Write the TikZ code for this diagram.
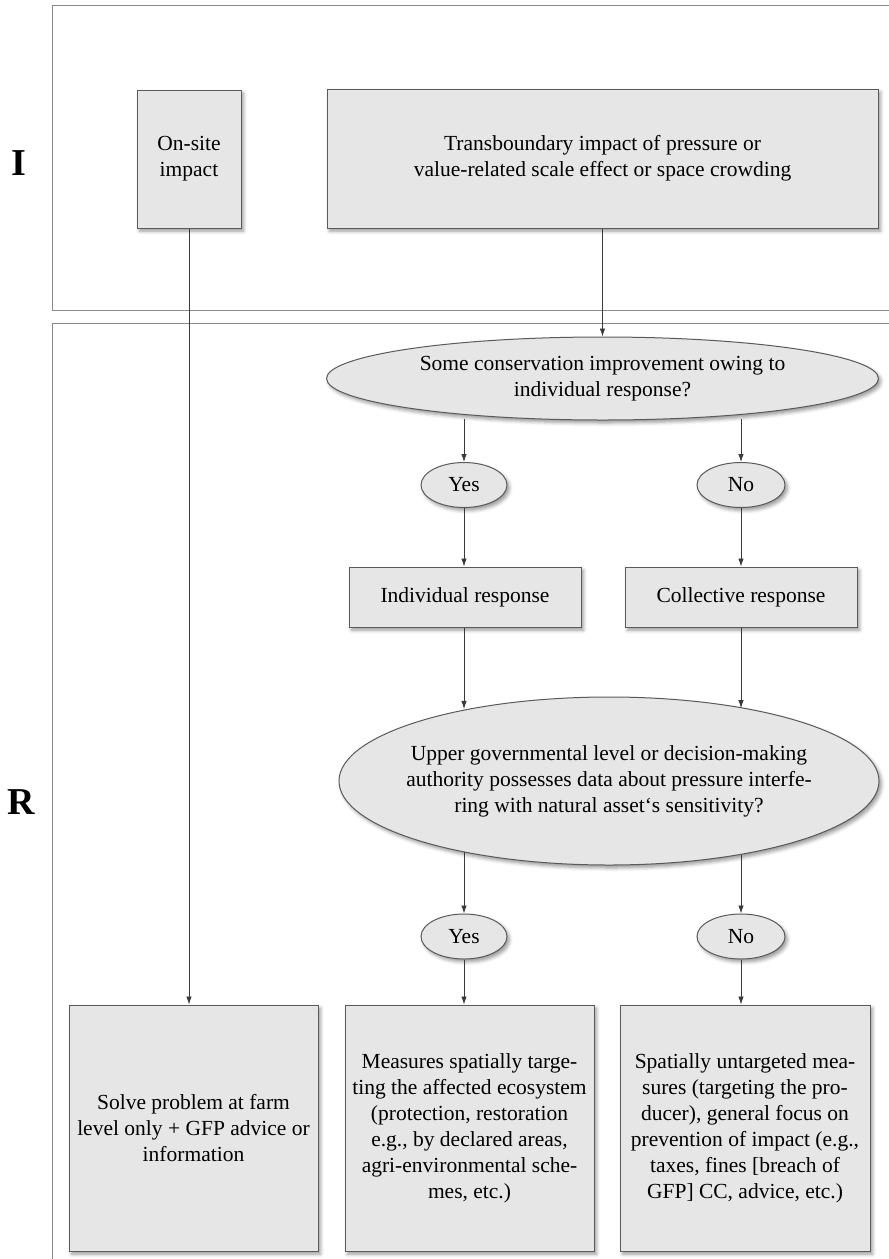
\documentclass[tikz,border=0pt]{standalone}
\usepackage{fontspec}
\setmainfont{Liberation Serif}
\usetikzlibrary{shapes.geometric,arrows.meta,shadows.blur}
\definecolor{boxfill}{HTML}{E6E6E6}
\definecolor{boxline}{HTML}{5A5A5A}
\definecolor{frameline}{HTML}{8A8A8A}
\definecolor{arrowline}{HTML}{3A3A3A}
\begin{document}
\begin{tikzpicture}[x=1pt,y=-1pt,
  box/.style={draw=boxline, fill=boxfill, line width=1pt,
    blur shadow={shadow xshift=2.5pt, shadow yshift=-3pt, shadow opacity=40, shadow blur radius=3.5pt},
    align=center, inner sep=0pt, font=\fontsize{21.5}{26}\selectfont},
  oval/.style={box, ellipse, inner xsep=-30pt},
  conn/.style={draw=arrowline, line width=0.8pt, -{Latex[length=8pt,width=5.5pt]}},
  frame/.style={draw=frameline, line width=1pt},
  lab/.style={font=\fontsize{38}{40}\selectfont\bfseries, inner sep=0pt}]

\useasboundingbox (0,0) rectangle (889,1259);
\begin{scope}
  \clip (0,0) rectangle (889,1259);
  \draw[frame] (52,5) rectangle (900,310);
  \draw[frame] (52,323) rectangle (900,1275);
\end{scope}

\node[lab] (labI) at (18.5,163) {I};
\node[lab] (labR) at (21,802) {R};

\node[box, minimum width=104pt, minimum height=138pt] (onsite) at (189,159) {On-site\\impact};
\node[box, minimum width=551pt, minimum height=139pt] (trans) at (602.5,158.5) {Transboundary impact of pressure or\\value-related scale effect or space crowding};

\node[oval, minimum width=552pt, minimum height=83pt] (q1) at (602.5,378.5) {Some conservation improvement owing to\\individual response?};

\node[oval, minimum width=86pt, minimum height=45pt, inner xsep=0pt] (yes1) at (464,485) {Yes};
\node[oval, minimum width=88pt, minimum height=45pt, inner xsep=0pt] (no1) at (741,485) {No};

\node[box, minimum width=232pt, minimum height=60pt] (ind) at (465,597) {Individual response};
\node[box, minimum width=232pt, minimum height=60pt] (coll) at (741,597) {Collective response};

\node[oval, minimum width=540pt, minimum height=168pt] (q2) at (609,781) {Upper governmental level or decision-making\\authority possesses data about pressure interfe-\\ring with natural asset‘s sensitivity?};

\node[oval, minimum width=86pt, minimum height=45pt, inner xsep=0pt] (yes2) at (464,936.5) {Yes};
\node[oval, minimum width=88pt, minimum height=45pt, inner xsep=0pt] (no2) at (741,936.5) {No};

\node[box, minimum width=249pt, minimum height=246pt] (farm) at (193.5,1128) {Solve problem at farm\\level only + GFP advice or\\information};
\node[box, minimum width=249pt, minimum height=246pt] (spat) at (469.5,1128) {Measures spatially targe-\\ting the affected ecosystem\\(protection, restoration\\e.g., by declared areas,\\agri-environmental sche-\\mes, etc.)};
\node[box, minimum width=250pt, minimum height=246pt] (unt) at (745,1128) {Spatially untargeted mea-\\sures (targeting the pro-\\ducer), general focus on\\prevention of impact (e.g.,\\taxes, fines [breach of\\GFP] CC, advice, etc.)};

\draw[conn] (trans.south) -- (trans.south |- q1.north);
\draw[conn] (yes1 |- q1.208) -- (yes1.north);
\draw[conn] (no1 |- q1.332) -- (no1.north);
\draw[conn] (yes1.south) -- (yes1.south |- ind.north);
\draw[conn] (no1.south) -- (no1.south |- coll.north);
\draw[conn] (yes1 |- ind.south) -- (yes1 |- q2.153.9);
\draw[conn] (no1 |- coll.south) -- (no1 |- q2.28.9);
\draw[conn] (yes2 |- q2.206.1) -- (yes2.north);
\draw[conn] (no2 |- q2.330.7) -- (no2.north);
\draw[conn] (yes2.south) -- (yes2.south |- spat.north);
\draw[conn] (no2.south) -- (no2.south |- unt.north);
\draw[conn] (onsite.south) -- (onsite.south |- farm.north);
\end{tikzpicture}
\end{document}
